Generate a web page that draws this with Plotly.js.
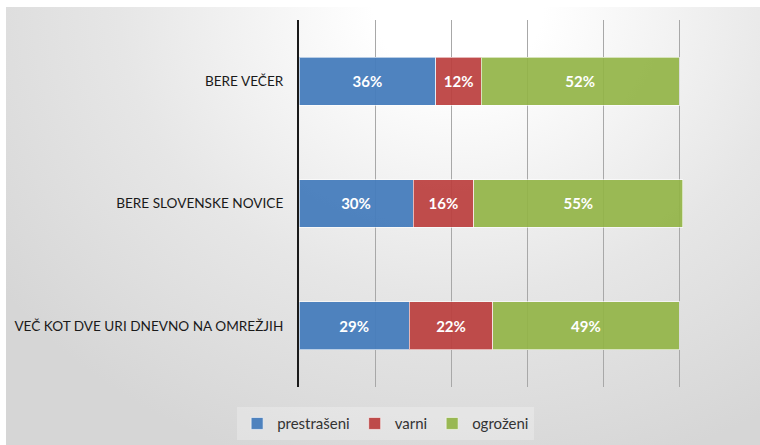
<!DOCTYPE html>
<html>
<head>
<meta charset="utf-8">
<script src="https://cdn.plot.ly/plotly-3.0.1.min.js"></script>
<style>
html,body{margin:0;padding:0;background:#fff;}
#wrap{position:relative;width:760px;height:445px;overflow:hidden;}
#bg{position:absolute;left:6px;top:7px;width:754px;height:438px;
background:radial-gradient(ellipse 75% 110% at 60% 0%, #ffffff 15%, #e6e6e6 60%, #d6d6d6 100%);}
#chart{position:absolute;left:0;top:0;width:760px;height:445px;}
</style>
</head>
<body>
<div id="wrap"><div id="bg"></div><div id="chart"></div></div>
<script>
const categories = ["BERE VEČER", "BERE SLOVENSKE NOVICE", "VEČ KOT DVE URI DNEVNO NA OMREŽJIH"];
const prestraseni = [36, 30, 29];
const varni = [12, 16, 22];
const ogrozeni = [52, 55, 49];
const seriesNames = ["prestrašeni", "varni", "ogroženi"];
const colors = ["rgba(70,124,188,0.95)", "rgba(187,64,62,0.93)", "rgba(146,180,70,0.92)"];

const series = [prestraseni, varni, ogrozeni];
const traces = series.map((vals, i) => ({
  type: "bar",
  orientation: "h",
  name: seriesNames[i],
  y: categories,
  x: vals,
  text: vals.map(v => v + "%"),
  textposition: "inside",
  insidetextanchor: "middle",
  textangle: 0,
  textfont: {family: "Lato, 'Open Sans', sans-serif", size: 15, color: "#ffffff", weight: "bold"},
  hoverinfo: "skip",
  marker: {color: colors[i], line: {color: "rgba(255,255,255,0.6)", width: 1}}
}));

const layout = {
  width: 760, height: 445,
  barmode: "stack",
  bargap: 0.61,
  paper_bgcolor: "rgba(0,0,0,0)",
  plot_bgcolor: "rgba(0,0,0,0)",
  margin: {l: 299, r: 5, t: 20, b: 53},
  showlegend: true,
  legend: {
    orientation: "h", x: 0.19, xref: "paper", xanchor: "center", y: -0.055, yanchor: "top",
    bgcolor: "rgba(255,255,255,0.25)",
    font: {family: "Lato, 'Open Sans', sans-serif", size: 15, color: "#333"},
    traceorder: "normal", itemwidth: 30
  },
  xaxis: {
    range: [0, 120], dtick: 20, tick0: 0,
    showgrid: true, gridcolor: "#a8a8a8", gridwidth: 1,
    showticklabels: false, zeroline: false, showline: false, fixedrange: true
  },
  yaxis: {
    autorange: "reversed",
    showgrid: false, zeroline: false,
    showline: true, linecolor: "#1a1a1a", linewidth: 2,
    ticks: "", ticklabelstandoff: 11,
    tickfont: {family: "Lato, 'Open Sans', sans-serif", size: 13.6, color: "#1a1a1a"}
  }
};

Plotly.newPlot("chart", traces, layout, {displayModeBar: false, staticPlot: true});
</script>
</body>
</html>
